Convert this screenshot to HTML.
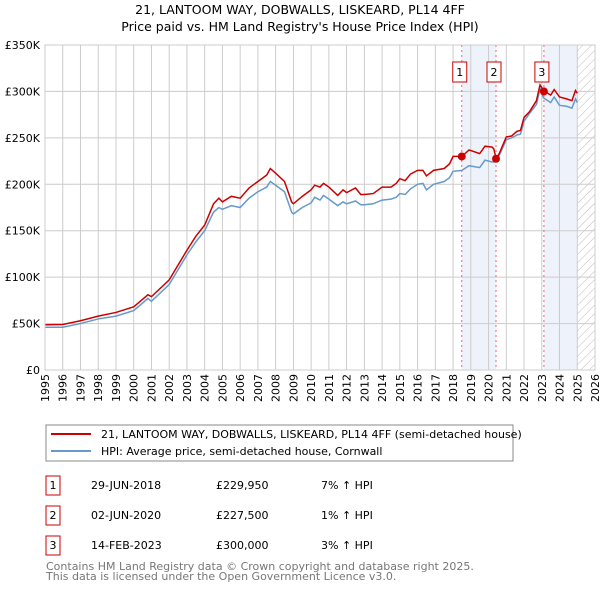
<!DOCTYPE html>
<html><head><meta charset="utf-8">
<style>
body{margin:0;background:#fff;font-family:"Liberation Sans","DejaVu Sans",sans-serif;}
#wrap{position:relative;width:600px;height:590px;overflow:hidden;}
svg text{font-family:"DejaVu Sans","Liberation Sans",sans-serif;}
</style></head>
<body>
<div id="wrap">
<svg id="chart" width="600" height="590" xmlns="http://www.w3.org/2000/svg">
<defs>
<pattern id="hatch" width="6" height="6" patternUnits="userSpaceOnUse" patternTransform="rotate(45)">
<line x1="0" y1="0" x2="0" y2="6" stroke="#bbb" stroke-width="1"/>
</pattern>
</defs>
<text x="300" y="14" text-anchor="middle" font-size="12.5" fill="#000">21, LANTOOM WAY, DOBWALLS, LISKEARD, PL14 4FF</text>
<text x="300" y="31" text-anchor="middle" font-size="12.5" fill="#000">Price paid vs. HM Land Registry's House Price Index (HPI)</text>
<g id="bg"></g>
<g id="grid"></g>
<g id="series"></g>
<g id="marks"></g>
<g id="axes"></g>

<rect x="46" y="425" width="467" height="36" fill="#fff" stroke="#888"/>
<line x1="51" y1="434" x2="91" y2="434" stroke="#cc0000" stroke-width="2"/>
<text x="101" y="438" font-size="11">21, LANTOOM WAY, DOBWALLS, LISKEARD, PL14 4FF (semi-detached house)</text>
<line x1="51" y1="451" x2="91" y2="451" stroke="#6699cc" stroke-width="2"/>
<text x="101" y="455" font-size="11">HPI: Average price, semi-detached house, Cornwall</text>

<g font-size="11">
<rect x="46" y="476" width="14" height="19" fill="#fff" stroke="#cc0000"/>
<text x="53" y="489" text-anchor="middle">1</text>
<text x="91" y="489">29-JUN-2018</text>
<text x="216" y="489">£229,950</text>
<text x="321" y="489">7% ↑ HPI</text>
<rect x="46" y="506" width="14" height="19" fill="#fff" stroke="#cc0000"/>
<text x="53" y="519" text-anchor="middle">2</text>
<text x="91" y="519">02-JUN-2020</text>
<text x="216" y="519">£227,500</text>
<text x="321" y="519">1% ↑ HPI</text>
<rect x="46" y="536" width="14" height="19" fill="#fff" stroke="#cc0000"/>
<text x="53" y="549" text-anchor="middle">3</text>
<text x="91" y="549">14-FEB-2023</text>
<text x="216" y="549">£300,000</text>
<text x="321" y="549">3% ↑ HPI</text>
</g>
<text x="46" y="570" font-size="11" fill="#777">Contains HM Land Registry data © Crown copyright and database right 2025.</text>
<text x="46" y="580" font-size="11" fill="#777">This data is licensed under the Open Government Licence v3.0.</text>
</svg>
</div>
<script>
const yearTicks = [1995,1996,1997,1998,1999,2000,2001,2002,2003,2004,2005,2006,2007,2008,2009,2010,2011,2012,2013,2014,2015,2016,2017,2018,2019,2020,2021,2022,2023,2024,2025,2026];
const priceTicks = [0,50,100,150,200,250,300,350];
const dates = [1995,1996,1997,1998,1999,2000,2000.8,2001,2002,2003,2003.5,2004,2004.5,2004.8,2005,2005.5,2006,2006.5,2007,2007.5,2007.7,2008,2008.5,2008.9,2009,2009.5,2010,2010.2,2010.5,2010.7,2011,2011.5,2011.8,2012,2012.5,2012.8,2013,2013.5,2014,2014.5,2014.8,2015,2015.3,2015.6,2016,2016.3,2016.5,2016.9,2017.5,2017.8,2018,2018.5,2018.9,2019.5,2019.8,2020.2,2020.3,2020.42,2020.6,2021,2021.3,2021.6,2021.8,2022,2022.3,2022.7,2022.9,2023.1,2023.5,2023.7,2024,2024.4,2024.7,2024.9,2025];
const propertyValues = [48.7,49,53,58,62,68,81,79,97,129,144,156,179,185,181,187,185,196,203,210,217,212,203,181,179,187,194,199,197,201,197,188,194,191,196,189,189,190,197,197,201,206,204,211,215,215,209,215,217,222,230,230,237,233,241,240,238,228,233,251,252,257,258,272,278,290,307,301,296,302,294,292,290,301,298];
const hpiValues = [46,46,50,55,58,64,77,74,92,124,138,150,170,175,173,177,175,185,192,197,203,199,192,170,168,175,180,186,183,188,184,177,181,179,182,178,178,179,183,184,186,190,189,195,200,201,194,200,203,207,214,215,220,218,226,224,224,225,231,248,250,253,254,268,276,286,303,293,288,294,285,284,282,292,288];
const saleLabels = ["1","2","3"];
const saleDates = [2018.49,2020.42,2023.12];
const salePrices = [229.95,227.5,300];

const NS="http://www.w3.org/2000/svg";
const L=45,R=595,T=45,B=370;
const x=y=>L+(y-1995)*(R-L)/31;
const yv=v=>B-v*(B-T)/350;
function mk(tag,attrs,parent){const e=document.createElementNS(NS,tag);for(const k in attrs)e.setAttribute(k,attrs[k]);document.getElementById(parent).appendChild(e);return e;}

// shaded regions
let s1=mk('rect',{x:x(saleDates[0]),y:T,width:x(saleDates[1])-x(saleDates[0]),height:B-T,fill:'#eef3fb'},'bg');


let s2=mk('rect',{x:x(saleDates[2]),y:T,width:x(2025)-x(saleDates[2]),height:B-T,fill:'#eef3fb'},'bg');


let h=mk('rect',{x:x(2025),y:T,width:R-x(2025),height:B-T,fill:'url(#hatch)'},'bg');



yearTicks.forEach(yr=>{
  const g=mk('line',{x1:x(yr),x2:x(yr),y1:T,y2:B,stroke:'#ccc','stroke-width':1},'grid');
  
  
  const t=mk('text',{x:0,y:0,'font-size':11,'text-anchor':'end',transform:`translate(${x(yr)+4},${B+4}) rotate(-90)`},'axes');
  t.textContent=yr;
  
  
});
priceTicks.forEach(p=>{
  const g=mk('line',{x1:L,x2:R,y1:yv(p*1000/1000),y2:yv(p),stroke:'#ccc','stroke-width':1},'grid');
  
  
  const t=mk('text',{x:L-5,y:yv(p)+4,'font-size':11,'text-anchor':'end'},'axes');
  t.textContent=p===0?'£0':'£'+p+'K';
  
  
});

let bl=mk('polyline',{points:dates.map((d,i)=>x(d)+','+yv(hpiValues[i])).join(' '),fill:'none',stroke:'#6699cc','stroke-width':1.5},'series');


let rl=mk('polyline',{points:dates.map((d,i)=>x(d)+','+yv(propertyValues[i])).join(' '),fill:'none',stroke:'#cc0000','stroke-width':1.5},'series');



saleDates.forEach((d,i)=>{
  const dl=mk('line',{x1:x(d),x2:x(d),y1:T,y2:B,stroke:'#f06070','stroke-width':1,'stroke-dasharray':'2,3'},'marks');
  
  
  const c=mk('circle',{cx:x(d),cy:yv(salePrices[i]),r:4,fill:'#cc0000'},'marks');
  
  
  const b=mk('rect',{x:x(d)-9,y:62,width:14,height:20,fill:'#fff',stroke:'#cc0000'},'marks');
  
  
  const t=mk('text',{x:x(d)-2,y:76,'font-size':11,'text-anchor':'middle'},'marks');
  t.textContent=saleLabels[i];
  
  
});
let fr=mk('rect',{x:L,y:T,width:R-L,height:B-T,fill:'none',stroke:'#ccc'},'axes');


</script>
</body></html>
